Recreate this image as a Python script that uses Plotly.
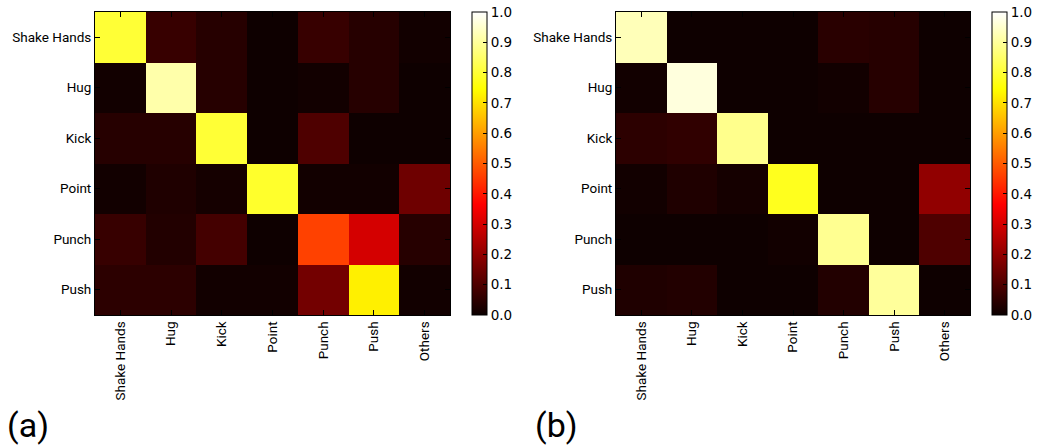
import plotly.graph_objects as go

# Class names for the confusion matrices
actual_labels = ["Shake Hands", "Hug", "Kick", "Point", "Punch", "Push"]
predicted_labels = ["Shake Hands", "Hug", "Kick", "Point", "Punch", "Push", "Others"]

# Row-normalised confusion matrix, model (a)
conf_a = [
    [0.80, 0.066, 0.040, 0.005, 0.066, 0.040, 0.010],
    [0.010, 0.915, 0.040, 0.005, 0.010, 0.040, 0.005],
    [0.040, 0.040, 0.80, 0.005, 0.100, 0.005, 0.005],
    [0.010, 0.030, 0.015, 0.79, 0.010, 0.010, 0.148],
    [0.066, 0.035, 0.085, 0.005, 0.462, 0.300, 0.040],
    [0.050, 0.050, 0.010, 0.010, 0.155, 0.723, 0.010],
]

# Row-normalised confusion matrix, model (b)
conf_b = [
    [0.930, 0.005, 0.005, 0.005, 0.045, 0.040, 0.005],
    [0.010, 0.966, 0.005, 0.005, 0.010, 0.040, 0.005],
    [0.050, 0.055, 0.885, 0.005, 0.005, 0.005, 0.005],
    [0.010, 0.030, 0.015, 0.776, 0.005, 0.005, 0.200],
    [0.005, 0.005, 0.005, 0.010, 0.890, 0.005, 0.100],
    [0.030, 0.035, 0.005, 0.005, 0.035, 0.900, 0.005],
]

colorbar_ticks = [0.0, 0.1, 0.2, 0.3, 0.4, 0.5, 0.6, 0.7, 0.8, 0.9, 1.0]
panel_tags = ["(a)", "(b)"]

# matplotlib "hot" colormap
hot = [
    [0.0, "rgb(11,0,0)"],
    [0.365079, "rgb(255,0,0)"],
    [0.746032, "rgb(255,255,0)"],
    [1.0, "rgb(255,255,255)"],
]

W, H = 1043, 447
FONT = "Roboto"
CB_FONT = "DejaVu Sans"


def px_x(v):
    return v / W


def px_y(v):
    return 1 - v / H


plot_top, plot_bottom = 12, 315
panels = [
    dict(z=conf_a, x0=95, x1=450, cb=472),
    dict(z=conf_b, x0=616, x1=970, cb=992),
]

fig = go.Figure()
for i, p in enumerate(panels):
    n = "" if i == 0 else str(i + 1)
    fig.add_trace(go.Heatmap(
        z=p["z"], x=predicted_labels, y=actual_labels,
        xaxis="x" + n, yaxis="y" + n,
        colorscale=hot, zmin=0, zmax=1,
        xgap=0, ygap=0,
        hoverinfo="skip",
        colorbar=dict(
            x=px_x(p["cb"]), xanchor="left", xpad=0, ypad=0,
            y=px_y((plot_top + plot_bottom) / 2), yanchor="middle",
            len=(plot_bottom - plot_top) / H, lenmode="fraction",
            thickness=15, thicknessmode="pixels",
            outlinewidth=1, outlinecolor="black",
            tickvals=colorbar_ticks, tickformat=".1f",
            ticks="inside", ticklen=4, tickcolor="black",
            tickfont=dict(family=CB_FONT, size=13.5, color="black"),
        ),
    ))
    axis_common = dict(
        showline=True, linecolor="black", linewidth=1, mirror="ticks",
        ticks="inside", ticklen=5, tickcolor="black",
        showgrid=False, zeroline=False,
        tickfont=dict(family=FONT, size=13.5, color="black"),
    )
    fig.layout["xaxis" + n] = dict(
        domain=[px_x(p["x0"]), px_x(p["x1"])],
        anchor="y" + n, tickangle=-90, **axis_common,
    )
    fig.layout["yaxis" + n] = dict(
        domain=[px_y(plot_bottom), px_y(plot_top)],
        anchor="x" + n, autorange="reversed", **axis_common,
    )

for tag, xpos in zip(panel_tags, [5, 533]):
    fig.add_annotation(
        text=tag, x=px_x(xpos), y=px_y(447), xref="paper", yref="paper",
        xanchor="left", yanchor="bottom", showarrow=False,
        font=dict(family=FONT, size=34, color="black"),
    )

fig.update_layout(
    width=W, height=H,
    margin=dict(l=0, r=0, t=0, b=0),
    paper_bgcolor="white", plot_bgcolor="white",
    showlegend=False,
)

fig.write_html("out.html")
